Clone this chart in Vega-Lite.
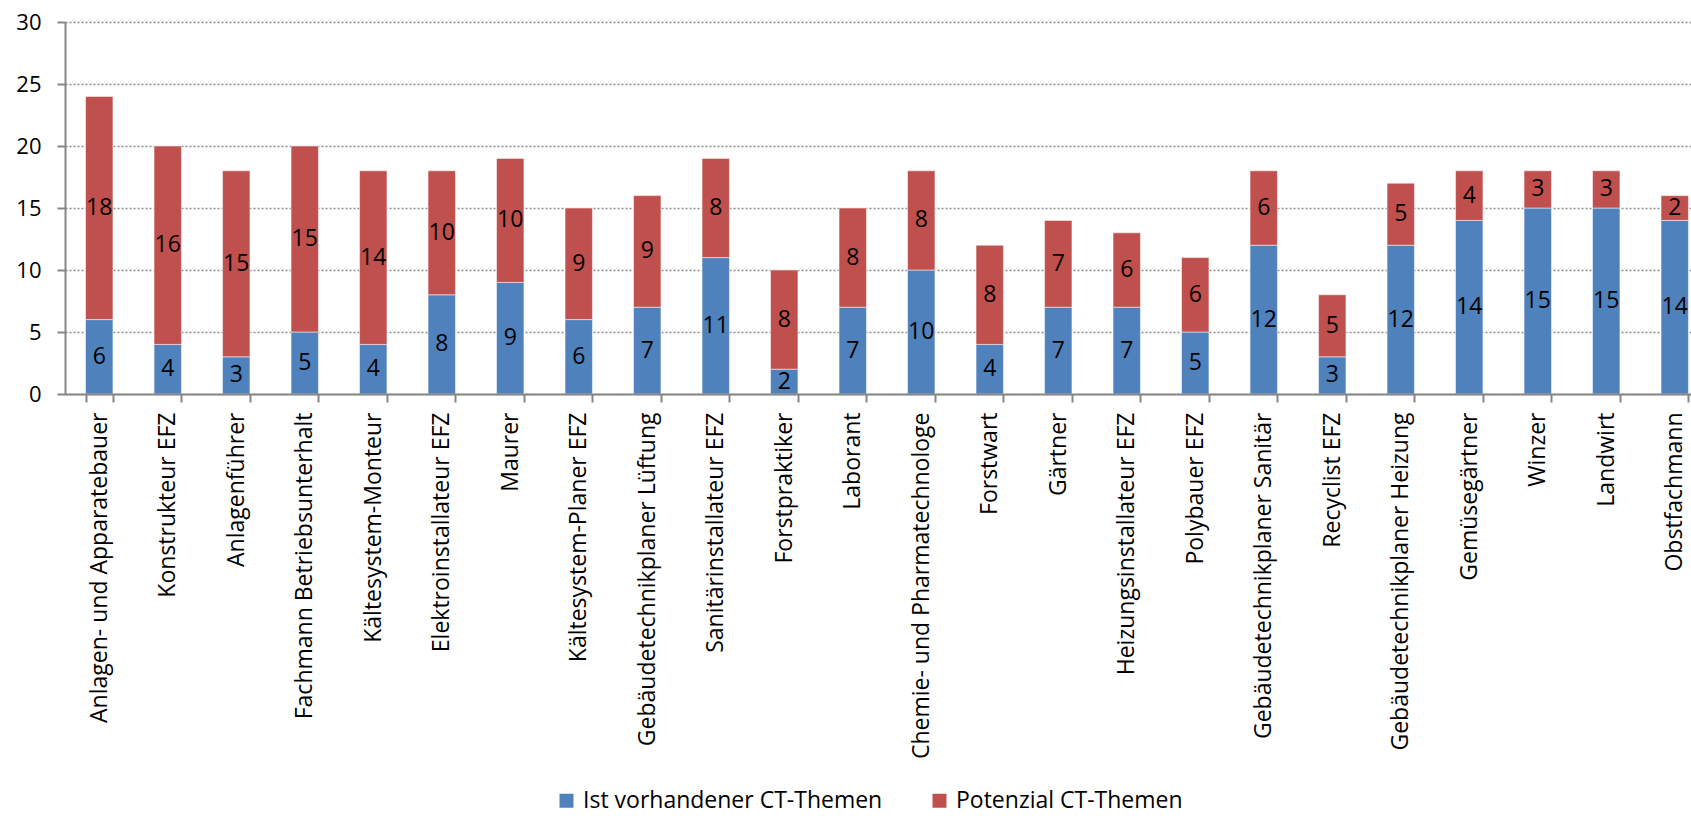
{
  "$schema": "https://vega.github.io/schema/vega-lite/v6.json",
  "autosize": {"type": "none"},
  "width": 1626,
  "height": 372,
  "padding": {"left": 65, "top": 22, "right": 0, "bottom": 422},
  "background": "white",
  "config": {
    "view": {"stroke": null},
    "font": "Open Sans"
  },
  "data": {
    "values": [
      {"order": 1, "job": "Anlagen- und Apparatebauer", "series": "Ist vorhandener CT-Themen", "value": 6},
      {"order": 1, "job": "Anlagen- und Apparatebauer", "series": "Potenzial CT-Themen", "value": 18},
      {"order": 2, "job": "Konstrukteur EFZ", "series": "Ist vorhandener CT-Themen", "value": 4},
      {"order": 2, "job": "Konstrukteur EFZ", "series": "Potenzial CT-Themen", "value": 16},
      {"order": 3, "job": "Anlagenführer", "series": "Ist vorhandener CT-Themen", "value": 3},
      {"order": 3, "job": "Anlagenführer", "series": "Potenzial CT-Themen", "value": 15},
      {"order": 4, "job": "Fachmann Betriebsunterhalt", "series": "Ist vorhandener CT-Themen", "value": 5},
      {"order": 4, "job": "Fachmann Betriebsunterhalt", "series": "Potenzial CT-Themen", "value": 15},
      {"order": 5, "job": "Kältesystem-Monteur", "series": "Ist vorhandener CT-Themen", "value": 4},
      {"order": 5, "job": "Kältesystem-Monteur", "series": "Potenzial CT-Themen", "value": 14},
      {"order": 6, "job": "Elektroinstallateur EFZ", "series": "Ist vorhandener CT-Themen", "value": 8},
      {"order": 6, "job": "Elektroinstallateur EFZ", "series": "Potenzial CT-Themen", "value": 10},
      {"order": 7, "job": "Maurer", "series": "Ist vorhandener CT-Themen", "value": 9},
      {"order": 7, "job": "Maurer", "series": "Potenzial CT-Themen", "value": 10},
      {"order": 8, "job": "Kältesystem-Planer EFZ", "series": "Ist vorhandener CT-Themen", "value": 6},
      {"order": 8, "job": "Kältesystem-Planer EFZ", "series": "Potenzial CT-Themen", "value": 9},
      {"order": 9, "job": "Gebäudetechnikplaner Lüftung", "series": "Ist vorhandener CT-Themen", "value": 7},
      {"order": 9, "job": "Gebäudetechnikplaner Lüftung", "series": "Potenzial CT-Themen", "value": 9},
      {"order": 10, "job": "Sanitärinstallateur EFZ", "series": "Ist vorhandener CT-Themen", "value": 11},
      {"order": 10, "job": "Sanitärinstallateur EFZ", "series": "Potenzial CT-Themen", "value": 8},
      {"order": 11, "job": "Forstpraktiker", "series": "Ist vorhandener CT-Themen", "value": 2},
      {"order": 11, "job": "Forstpraktiker", "series": "Potenzial CT-Themen", "value": 8},
      {"order": 12, "job": "Laborant", "series": "Ist vorhandener CT-Themen", "value": 7},
      {"order": 12, "job": "Laborant", "series": "Potenzial CT-Themen", "value": 8},
      {"order": 13, "job": "Chemie- und Pharmatechnologe", "series": "Ist vorhandener CT-Themen", "value": 10},
      {"order": 13, "job": "Chemie- und Pharmatechnologe", "series": "Potenzial CT-Themen", "value": 8},
      {"order": 14, "job": "Forstwart", "series": "Ist vorhandener CT-Themen", "value": 4},
      {"order": 14, "job": "Forstwart", "series": "Potenzial CT-Themen", "value": 8},
      {"order": 15, "job": "Gärtner", "series": "Ist vorhandener CT-Themen", "value": 7},
      {"order": 15, "job": "Gärtner", "series": "Potenzial CT-Themen", "value": 7},
      {"order": 16, "job": "Heizungsinstallateur EFZ", "series": "Ist vorhandener CT-Themen", "value": 7},
      {"order": 16, "job": "Heizungsinstallateur EFZ", "series": "Potenzial CT-Themen", "value": 6},
      {"order": 17, "job": "Polybauer EFZ", "series": "Ist vorhandener CT-Themen", "value": 5},
      {"order": 17, "job": "Polybauer EFZ", "series": "Potenzial CT-Themen", "value": 6},
      {"order": 18, "job": "Gebäudetechnikplaner Sanitär", "series": "Ist vorhandener CT-Themen", "value": 12},
      {"order": 18, "job": "Gebäudetechnikplaner Sanitär", "series": "Potenzial CT-Themen", "value": 6},
      {"order": 19, "job": "Recyclist EFZ", "series": "Ist vorhandener CT-Themen", "value": 3},
      {"order": 19, "job": "Recyclist EFZ", "series": "Potenzial CT-Themen", "value": 5},
      {"order": 20, "job": "Gebäudetechnikplaner Heizung", "series": "Ist vorhandener CT-Themen", "value": 12},
      {"order": 20, "job": "Gebäudetechnikplaner Heizung", "series": "Potenzial CT-Themen", "value": 5},
      {"order": 21, "job": "Gemüsegärtner", "series": "Ist vorhandener CT-Themen", "value": 14},
      {"order": 21, "job": "Gemüsegärtner", "series": "Potenzial CT-Themen", "value": 4},
      {"order": 22, "job": "Winzer", "series": "Ist vorhandener CT-Themen", "value": 15},
      {"order": 22, "job": "Winzer", "series": "Potenzial CT-Themen", "value": 3},
      {"order": 23, "job": "Landwirt", "series": "Ist vorhandener CT-Themen", "value": 15},
      {"order": 23, "job": "Landwirt", "series": "Potenzial CT-Themen", "value": 3},
      {"order": 24, "job": "Obstfachmann", "series": "Ist vorhandener CT-Themen", "value": 14},
      {"order": 24, "job": "Obstfachmann", "series": "Potenzial CT-Themen", "value": 2}
    ]
  },
  "transform": [
    {"stack": "value", "groupby": ["job"], "sort": [{"field": "series", "order": "ascending"}], "as": ["v0", "v1"]},
    {"calculate": "(datum.v0 + datum.v1) / 2", "as": "mid"}
  ],
  "encoding": {
    "x": {
      "field": "job",
      "type": "nominal",
      "sort": {"field": "order", "op": "min"},
      "scale": {"range": [0, 1644], "paddingInner": 0.6, "paddingOuter": 0.3},
      "axis": {
        "title": null,
        "labelAngle": -90,
        "labelFont": "Open Sans",
        "labelFontSize": 23,
        "labelColor": "#000000",
        "labelPadding": 10,
        "labelLimit": 0,
        "tickBand": "extent",
        "tickSize": 8,
        "tickWidth": 2,
        "tickColor": "#868686",
        "domainColor": "#868686",
        "domainWidth": 2,
        "grid": false,
        "zindex": 1
      }
    }
  },
  "layer": [
    {
      "mark": {"type": "bar", "stroke": "#ffffff", "strokeOpacity": 0.5, "strokeWidth": 1},
      "encoding": {
        "y": {
          "field": "v1",
          "type": "quantitative",
          "scale": {"domain": [0, 30], "nice": false},
          "axis": {
            "title": null,
            "values": [0, 5, 10, 15, 20, 25, 30],
            "labelFont": "Open Sans",
            "labelFontSize": 22,
            "labelColor": "#000000",
            "labelPadding": 16,
            "tickSize": 8,
            "tickWidth": 2,
            "tickColor": "#868686",
            "domainColor": "#868686",
            "domainWidth": 2,
            "grid": true,
            "gridColor": "#8c8c8c",
            "gridWidth": 1.5,
            "gridDash": [2, 2]
          }
        },
        "y2": {"field": "v0"},
        "color": {
          "field": "series",
          "type": "nominal",
          "scale": {"domain": ["Ist vorhandener CT-Themen", "Potenzial CT-Themen"], "range": ["#4F81BD", "#C0504D"]},
          "legend": {
            "title": null,
            "orient": "none",
            "direction": "horizontal",
            "legendX": 490,
            "legendY": 767,
            "symbolType": "square",
            "symbolSize": 196,
            "symbolStrokeWidth": 0,
            "labelFont": "Open Sans",
            "labelFontSize": 23,
            "labelColor": "#000000",
            "labelOffset": 5,
            "columnPadding": 45,
            "labelLimit": 0
          }
        }
      }
    },
    {
      "mark": {"type": "text", "font": "Open Sans", "fontSize": 23, "color": "#000000", "baseline": "middle", "align": "center"},
      "encoding": {
        "y": {"field": "mid", "type": "quantitative"},
        "text": {"field": "value", "type": "quantitative"}
      }
    }
  ]
}
